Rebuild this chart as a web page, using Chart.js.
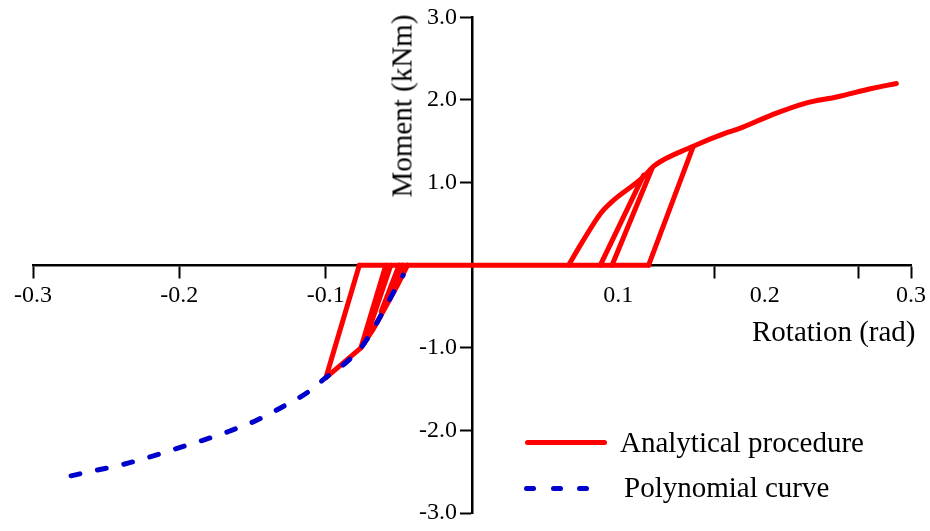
<!DOCTYPE html>
<html lang="en">
<head>
  <meta charset="UTF-8" />
  <title>Moment - Rotation</title>
  <script src="https://cdn.jsdelivr.net/npm/chart.js"></script>
  <style>
    body {
      margin: 0;
      background: #ffffff;
      font-family: "Liberation Serif", "Times New Roman", serif;
    }
    #wrap {
      position: relative;
      width: 930px;
      height: 531px;
    }
    .label {
      position: absolute;
      font-size: 29px;
      line-height: 1;
      color: #000;
      white-space: nowrap;
    }
    /* y title reads bottom to top */
    #yTitle {
      left: 402px;
      top: 106px;
      transform: translate(-50%, -50%) rotate(-90deg);
    }
    #xTitle {
      left: 752px;
      top: 317px;
    }
    .legend-line {
      position: absolute;
      height: 5px;
      border-radius: 3px;
    }
  </style>
</head>
<body>
  <div id="wrap">
    <canvas id="myChart"></canvas>
    <div class="label" id="yTitle">Moment (kNm)</div>
    <div class="label" id="xTitle">Rotation (rad)</div>

    <!-- legend -->
    <div class="legend-line" style="left:525px; top:440px; width:82px; background:#ff0000;"></div>
    <div class="label" style="left:620px; top:428px;">Analytical procedure</div>
    <div class="legend-line" style="left:524px; top:486px; width:12px; background:#0000cd;"></div>
    <div class="legend-line" style="left:551px; top:486px; width:12px; background:#0000cd;"></div>
    <div class="legend-line" style="left:577px; top:486px; width:12px; background:#0000cd;"></div>
    <div class="label" style="left:624px; top:473px;">Polynomial curve</div>
  </div>

  <script>
    // axis ticks
    const xTickValues = [-0.3, -0.2, -0.1, 0.1, 0.166, 0.2, 0.264, 0.3];
    const xLabelValues = [-0.3, -0.2, -0.1, 0.1, 0.2, 0.3];
    const xMarkValues = [-0.3, -0.2, -0.1, 0.166, 0.264, 0.3]; // tick marks as drawn in the figure
    const yTickValues = [-3, -2, -1, 1, 2, 3];
    const yLabelAt = -0.0102; // rotation where the y tick labels end (left of the axis)

    // analytical procedure (rotation, moment)
    const zeroLine = [[-0.077, 0], [0.1207, 0]];
    const posEnvelope = [
      [0.066, 0], [0.075, 0.27], [0.088, 0.63], [0.0957, 0.77], [0.116, 1.05],
      [0.125, 1.21], [0.150, 1.43], [0.175, 1.61], [0.182, 1.65], [0.205, 1.82],
      [0.2275, 1.96], [0.250, 2.04], [0.273, 2.14], [0.290, 2.20]
    ];
    const posUnload1 = [[0.0877, 0], [0.1173, 1.09]];
    const posUnload2 = [[0.0957, 0], [0.123, 1.17]];
    const posUnload3 = [[0.1207, 0], [0.151, 1.43]];
    const negEnvelope = [
      [-0.0998, -1.36], [-0.0759, -1.0], [-0.068, -0.79], [-0.0589, -0.5],
      [-0.0509, -0.24], [-0.044, 0]
    ];
    const negUnload1 = [[-0.0998, -1.36], [-0.077, 0]];
    const negUnload2 = [[-0.0759, -1.0], [-0.0589, 0]];
    const negUnload3 = [[-0.0735, -0.94], [-0.0555, 0]];
    const negUnload4 = [[-0.062, -0.56], [-0.0498, 0]];
    const negUnload5 = [[-0.059, -0.47], [-0.0475, 0]];

    // polynomial curve
    const polyCurve = [
      [-0.274, -2.55], [-0.256, -2.48], [-0.238, -2.41], [-0.220, -2.32],
      [-0.202, -2.22], [-0.184, -2.12], [-0.166, -2.01], [-0.1475, -1.88],
      [-0.129, -1.71], [-0.1116, -1.53], [-0.0998, -1.36], [-0.0855, -1.17],
      [-0.0759, -1.0], [-0.068, -0.79], [-0.0589, -0.5], [-0.0509, -0.24],
      [-0.047, -0.12]
    ];

    const RED = "#ff0000";
    const BLUE = "#0000cd";
    const FONT = { family: '"Liberation Serif", "Times New Roman", serif', size: 24 };

    function toPoints(arr) {
      return arr.map(([x, y]) => ({ x, y }));
    }

    function redSet(arr, smooth) {
      return {
        data: toPoints(arr),
        borderColor: RED,
        backgroundColor: RED,
        borderWidth: 5,
        borderCapStyle: "round",
        borderJoinStyle: "round",
        pointRadius: 0,
        showLine: true,
        cubicInterpolationMode: smooth ? "monotone" : "default",
        order: 1,
      };
    }

    const datasets = [
      {
        data: toPoints(polyCurve),
        borderColor: BLUE,
        backgroundColor: BLUE,
        borderWidth: 5,
        borderDash: [9, 18],
        borderCapStyle: "round",
        pointRadius: 0,
        showLine: true,
        cubicInterpolationMode: "monotone",
        order: 0,
      },
      redSet(zeroLine),
      redSet(posEnvelope, true),
      redSet(posUnload1),
      redSet(posUnload2),
      redSet(posUnload3),
      redSet(negEnvelope),
      redSet(negUnload1),
      redSet(negUnload2),
      redSet(negUnload3),
      redSet(negUnload4),
      redSet(negUnload5),
    ];

    const setYTicks = (scale) => {
      scale.ticks = yTickValues.map((v) => ({ value: v }));
    };

    const ctx = document.getElementById("myChart").getContext("2d");
    new Chart(ctx, {
      type: "scatter",
      data: { datasets },
      options: {
        responsive: true,
        maintainAspectRatio: false,
        animation: false,
        layout: { padding: { left: 33, right: 18, top: 15, bottom: 18 } },
        plugins: {
          legend: { display: false },
          tooltip: { enabled: false },
        },
        scales: {
          x: {
            type: "linear",
            min: -0.3,
            max: 0.3,
            position: { y: 0 },
            afterBuildTicks: (scale) => {
              scale.ticks = xTickValues.map((v) => ({ value: v }));
            },
            ticks: {
              autoSkip: false,
              maxRotation: 0,
              padding: 4,
              color: "#000",
              font: FONT,
              callback: (v) => (xLabelValues.includes(v) ? v.toFixed(1) : ""),
            },
            grid: {
              drawOnChartArea: false,
              tickLength: 12,
              tickWidth: 2,
              tickColor: (c) =>
                c.tick && xMarkValues.includes(c.tick.value) ? "#000" : "rgba(0,0,0,0)",
            },
            border: { color: "#000", width: 2.5 },
          },
          // axis line and tick marks at rotation 0
          y: {
            type: "linear",
            min: -3,
            max: 3,
            position: { x: 0 },
            afterBuildTicks: setYTicks,
            ticks: { autoSkip: false, font: FONT, callback: () => "" },
            grid: {
              drawOnChartArea: false,
              tickLength: 11,
              tickWidth: 2,
              tickColor: "#000",
            },
            border: { color: "#000", width: 2.5 },
          },
          // tick labels, right-aligned just left of the tick marks
          yLabels: {
            type: "linear",
            axis: "y",
            min: -3,
            max: 3,
            position: { x: yLabelAt },
            afterBuildTicks: setYTicks,
            ticks: {
              autoSkip: false,
              color: "#000",
              font: FONT,
              callback: (v) => v.toFixed(1),
            },
            grid: { display: false },
            border: { display: false },
          },
        },
      },
    });
  </script>
</body>
</html>
